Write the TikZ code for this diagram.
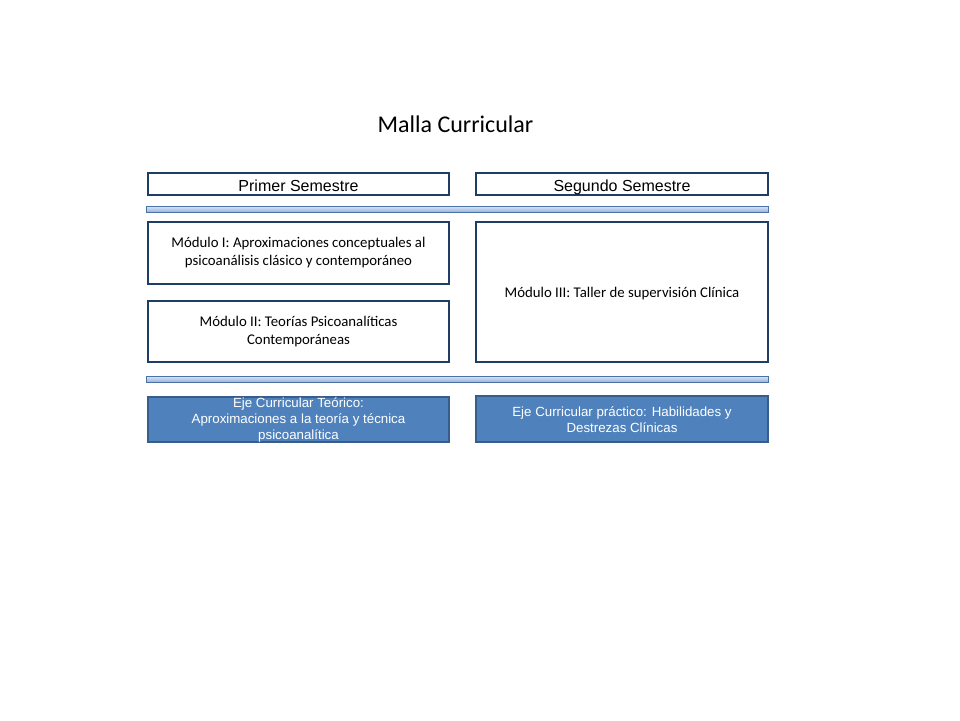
\documentclass[tikz,border=0pt]{standalone}
\usepackage{fontspec}
\setmainfont{Carlito}
\newfontfamily\arialf{Liberation Sans}
\definecolor{boxborder}{HTML}{1F3E66}
\definecolor{ejefill}{HTML}{4F81BD}
\definecolor{ejeborder}{HTML}{385D8A}
\definecolor{bartop}{HTML}{DCE6F4}
\definecolor{barbot}{HTML}{95B3DE}
\definecolor{barborder}{HTML}{4A72A8}
\begin{document}
\begin{tikzpicture}[x=1pt,y=-1pt,
  semebox/.style={draw=boxborder,line width=2.6pt,fill=white},
  modbox/.style={draw=boxborder,line width=2.6pt,fill=white},
  ejebox/.style={draw=ejeborder,line width=1.6pt,fill=ejefill},
  barbox/.style={draw=barborder,line width=0.8pt,top color=bartop,bottom color=barbot},
  lbl/.style={align=center,inner sep=0pt},
  modfont/.style={font=\fontsize{14.8}{18}\selectfont},
  semfont/.style={font=\arialf\fontsize{16}{19}\selectfont},
  ejefont/.style={text=white,font=\arialf\fontsize{13.3}{16}\selectfont}]
\useasboundingbox (0,0) rectangle (960,720);
\fill[white] (0,0) rectangle (960,720);
\node[lbl,anchor=base,font=\fontsize{24}{28}\selectfont] (title) at (455.5,132) {Malla Curricular};
% semesters
\draw[semebox] (148,173) rectangle (449,195);
\node[lbl,semfont,anchor=base] (s1) at (298.5,191) {Primer Semestre};
\draw[semebox] (476,173) rectangle (768,195);
\node[lbl,semfont,anchor=base] (s2) at (622,191) {Segundo Semestre};
% bar 1
\draw[barbox] (146,206) rectangle (768,212);
% modules
\draw[modbox] (148,222) rectangle (449,284);
\node[lbl,modfont] (m1) at (298.5,253) {Módulo I: Aproximaciones conceptuales al\\psicoanálisis clásico y contemporáneo};
\draw[modbox] (148,301) rectangle (449,362);
\node[lbl,modfont] (m2) at (298.5,332) {Módulo II: Teorías Psicoanalíticas\\Contemporáneas};
\draw[modbox] (476,222) rectangle (768,362);
\node[lbl,modfont] (m3) at (622,293.5) {Módulo III: Taller de supervisión Clínica};
% bar 2
\draw[barbox] (146,376) rectangle (768,382);
% ejes
\draw[ejebox] (148,397) rectangle (449,442);
\node[lbl,ejefont] (e1) at (298.5,420) {Eje Curricular Teórico:\\Aproximaciones a la teoría y técnica\\psicoanalítica};
\draw[ejebox] (476,396) rectangle (768,442);
\node[lbl,ejefont] (e2) at (622,419.5) {Eje Curricular práctico: Habilidades y\\Destrezas Clínicas};
\end{tikzpicture}
\end{document}
